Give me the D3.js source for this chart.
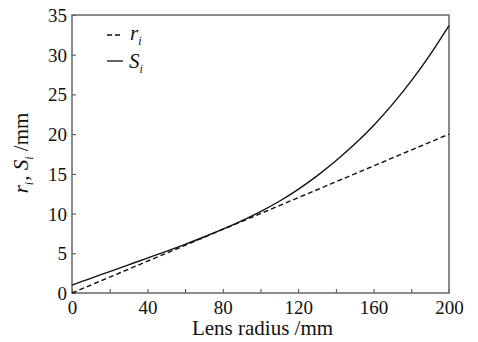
<!DOCTYPE html>
<html>
<head>
  <meta charset="utf-8">
  <script src="https://d3js.org/d3.v7.min.js"></script>
  <style>
    body { margin: 0; background: #fff; }
  </style>
</head>
<body>
  <svg id="chart" width="478" height="342"></svg>
  <script>
    // datos
    const radius = [0, 10, 20, 30, 40, 50, 60, 70, 80, 90, 100, 110, 120, 130, 140, 150, 160, 170, 180, 190, 200];
    const sValues = [1.0, 1.85, 2.7, 3.55, 4.4, 5.25, 6.13, 7.05, 8.03, 9.09, 10.25, 11.55, 13.05, 14.75, 16.65, 18.75, 21.1, 23.75, 26.7, 30.0, 33.65];
    const rValues = [0, 1, 2, 3, 4, 5, 6, 7, 8, 9, 10, 11, 12, 13, 14, 15, 16, 17, 18, 19, 20];
    const xTicks = [0, 20, 40, 60, 80, 100, 120, 140, 160, 180, 200];
    const xLabels = [0, 40, 80, 120, 160, 200];
    const yTicks = [0, 5, 10, 15, 20, 25, 30, 35];

    const FONT = "'Liberation Serif', 'DejaVu Serif', 'Times New Roman', serif";
    const margin = { top: 15, right: 29, bottom: 49, left: 72 };
    const width = 478, height = 342;
    const svg = d3.select("#chart");

    const x = d3.scaleLinear().domain([0, 200]).range([margin.left, width - margin.right]);
    const y = d3.scaleLinear().domain([0, 35]).range([height - margin.bottom, margin.top]);

    // Ejes (marcas hacia dentro)
    const xAxis = svg.append("g")
      .attr("transform", `translate(0,${height - margin.bottom})`)
      .call(d3.axisBottom(x).tickValues(xTicks).tickSizeInner(-4).tickSizeOuter(0)
        .tickFormat(d => xLabels.includes(d) ? d : ""));
    xAxis.attr("font-family", FONT).attr("font-size", 19);
    xAxis.selectAll("text").attr("dy", "0.95em").attr("fill", "#111");

    const yAxis = svg.append("g")
      .attr("transform", `translate(${margin.left},0)`)
      .call(d3.axisLeft(y).tickValues(yTicks).tickSizeInner(-4).tickSizeOuter(0));
    yAxis.attr("font-family", FONT).attr("font-size", 19);
    yAxis.selectAll("text").attr("x", -5).attr("dy", "0.34em").attr("fill", "#111");

    svg.selectAll(".domain").remove();
    svg.selectAll(".tick line").attr("stroke", "#444");

    // marco
    svg.append("rect")
      .attr("x", x(0)).attr("y", y(35))
      .attr("width", x(200) - x(0)).attr("height", y(0) - y(35))
      .attr("fill", "none").attr("stroke", "#666").attr("stroke-width", 1.5);

    const line = (vals) => d3.line()
      .x((d, i) => x(radius[i]))
      .y(d => y(d))
      .curve(d3.curveNatural)(vals);

    svg.append("path").attr("d", line(rValues))
      .attr("fill", "none").attr("stroke", "#111").attr("stroke-width", 1.4)
      .attr("stroke-dasharray", "5,3");
    svg.append("path").attr("d", line(sValues))
      .attr("fill", "none").attr("stroke", "#111").attr("stroke-width", 1.4);

    // leyenda
    const legend = svg.append("g").attr("font-family", FONT).attr("fill", "#111");
    legend.append("line").attr("x1", 107).attr("x2", 123).attr("y1", 35).attr("y2", 35)
      .attr("stroke", "#111").attr("stroke-width", 1.3).attr("stroke-dasharray", "5,3");
    legend.append("line").attr("x1", 107).attr("x2", 123).attr("y1", 61).attr("y2", 61)
      .attr("stroke", "#111").attr("stroke-width", 1.3);
    const t1 = legend.append("text").attr("x", 130).attr("y", 40).attr("font-size", 21);
    t1.append("tspan").attr("font-style", "italic").text("r");
    t1.append("tspan").attr("font-style", "italic").attr("font-size", 12).attr("dy", 5).text("i");
    const t2 = legend.append("text").attr("x", 129).attr("y", 68).attr("font-size", 21);
    t2.append("tspan").attr("font-style", "italic").text("S");
    t2.append("tspan").attr("font-style", "italic").attr("font-size", 12).attr("dy", 5).text("i");

    // etiqueta eje x
    svg.append("text")
      .attr("x", (x(0) + x(200)) / 2 + 2).attr("y", 335)
      .attr("text-anchor", "middle").attr("font-family", FONT).attr("font-size", 21)
      .attr("fill", "#111")
      .text("Lens radius /mm");

    // etiqueta eje y
    const yl = svg.append("text")
      .attr("transform", `translate(28,153) rotate(-90)`)
      .attr("text-anchor", "middle").attr("font-family", FONT).attr("font-size", 21)
      .attr("fill", "#111");
    yl.append("tspan").attr("font-style", "italic").text("r");
    yl.append("tspan").attr("font-style", "italic").attr("font-size", 12).attr("dy", 5).text("i");
    yl.append("tspan").attr("dy", -5).attr("dx", 1).text(", ");
    yl.append("tspan").attr("font-style", "italic").text("S");
    yl.append("tspan").attr("font-style", "italic").attr("font-size", 12).attr("dy", 5).text("i");
    yl.append("tspan").attr("dy", -5).text(" /mm");
  </script>
</body>
</html>
